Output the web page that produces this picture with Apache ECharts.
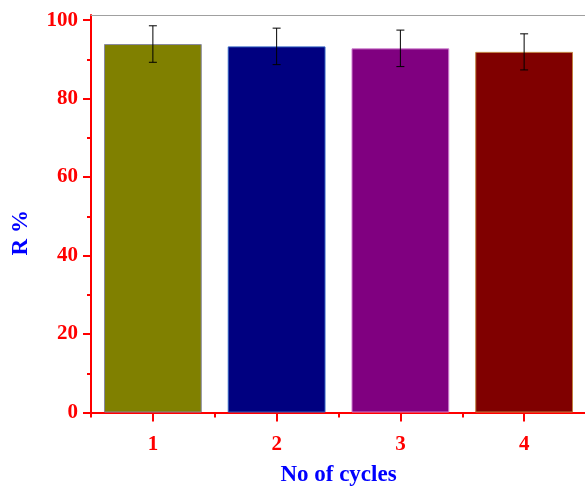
<!DOCTYPE html>
<html>
<head>
<meta charset="utf-8">
<script src="https://cdn.jsdelivr.net/npm/echarts@6/dist/echarts.min.js"></script>
<style>html,body{margin:0;padding:0;background:#fff}#c{width:585px;height:488px}</style>
</head>
<body>
<div id="c"></div>
<script>
const categories = ['1', '2', '3', '4'];
const values = [93.9, 93.3, 92.8, 91.9];
const errors = [4.65, 4.65, 4.65, 4.6];
const barColors = ['#808000', '#000080', '#800080', '#800000'];
const barBorders = ['#8888a0', '#3060c0', '#d080d0', '#c08040'];
const yMajorTicks = [0, 20, 40, 60, 80, 100];
const yMinorTicks = [10, 30, 50, 70, 90];
const yMin = 0, yMax = 101.3;

const FONT = '"Liberation Serif", "Times New Roman", serif';
const RED = '#ff0000', BLUE = '#0000ff';

const chart = echarts.init(document.getElementById('c'), null, {renderer: 'canvas'});
chart.setOption({
  animation: false,
  backgroundColor: '#ffffff',
  grid: {left: 91, right: -1, top: 15, bottom: 75.5, containLabel: false, outerBoundsMode: 'none'},
  xAxis: [
    {
      type: 'category', data: categories, position: 'bottom',
      axisLine: {show: true, lineStyle: {color: RED, width: 2}},
      axisTick: {show: true, alignWithLabel: true, length: 9, lineStyle: {color: RED, width: 2}},
      axisLabel: {color: RED, fontFamily: FONT, fontWeight: 'bold', fontSize: 21, margin: 22},
      splitLine: {show: false},
      name: 'No of cycles', nameLocation: 'middle', nameGap: 51,
      nameTextStyle: {color: BLUE, fontFamily: FONT, fontWeight: 'bold', fontSize: 23}
    },
    {
      type: 'category', data: categories, position: 'bottom',
      axisLine: {show: false},
      axisTick: {show: true, alignWithLabel: false, length: 5, lineStyle: {color: RED, width: 2}},
      axisLabel: {show: false}, splitLine: {show: false}
    },
    {
      type: 'category', data: categories, position: 'top',
      axisLine: {show: true, lineStyle: {color: '#a0a0a0', width: 1}},
      axisTick: {show: false}, axisLabel: {show: false}, splitLine: {show: false}
    }
  ],
  yAxis: [
    {
      type: 'value', min: yMin, max: yMax, position: 'left',
      axisLine: {show: true, lineStyle: {color: RED, width: 2}},
      axisTick: {show: true, customValues: yMajorTicks, length: 8, lineStyle: {color: RED, width: 2}},
      axisLabel: {customValues: yMajorTicks, color: RED, fontFamily: FONT, fontWeight: 'bold', fontSize: 21, margin: 13},
      splitLine: {show: false},
      name: 'R %', nameLocation: 'middle', nameGap: 58, nameRotate: 90,
      nameTextStyle: {color: BLUE, fontFamily: FONT, fontWeight: 'bold', fontSize: 23, padding: [0, 38, 0, 0]}
    },
    {
      type: 'value', min: yMin, max: yMax, position: 'left',
      axisLine: {show: false},
      axisTick: {show: true, customValues: yMinorTicks, length: 4, lineStyle: {color: RED, width: 2}},
      axisLabel: {show: false}, splitLine: {show: false}
    }
  ],
  series: [
    {
      type: 'bar', xAxisIndex: 0, yAxisIndex: 0, barWidth: '79%',
      data: values.map((v, i) => ({
        value: v,
        itemStyle: {color: barColors[i], borderColor: barBorders[i], borderWidth: 1}
      })),
      z: 2
    },
    {
      type: 'custom', xAxisIndex: 0, yAxisIndex: 0, z: 5,
      data: values.map((v, i) => [i, v - errors[i], v + errors[i]]),
      encode: {x: 0, y: [1, 2]},
      renderItem: function (params, api) {
        const x = api.value(0);
        const lo = api.coord([x, api.value(1)]);
        const hi = api.coord([x, api.value(2)]);
        const hw = 4;
        const st = {stroke: '#000', lineWidth: 1};
        return {
          type: 'group',
          children: [
            {type: 'line', shape: {x1: hi[0], y1: hi[1], x2: lo[0], y2: lo[1]}, style: st},
            {type: 'line', shape: {x1: hi[0] - hw, y1: hi[1], x2: hi[0] + hw, y2: hi[1]}, style: st},
            {type: 'line', shape: {x1: lo[0] - hw, y1: lo[1], x2: lo[0] + hw, y2: lo[1]}, style: st}
          ]
        };
      }
    }
  ]
});
</script>
</body>
</html>
